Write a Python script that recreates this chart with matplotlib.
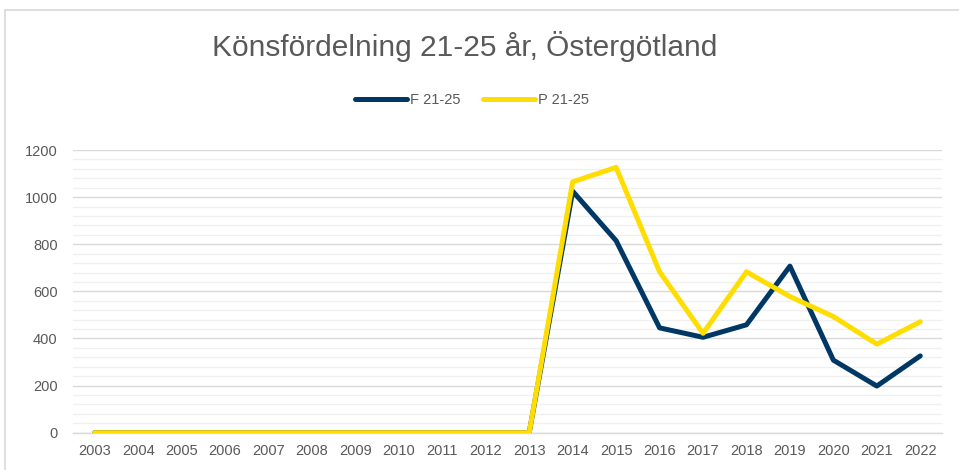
import matplotlib.pyplot as plt
from matplotlib.patches import Rectangle
from matplotlib.ticker import MultipleLocator

years = [str(y) for y in range(2003, 2023)]
f_vals = [0, 0, 0, 0, 0, 0, 0, 0, 0, 0, 0,
          1025, 815, 445, 405, 458, 707, 308, 198, 326]
p_vals = [0, 0, 0, 0, 0, 0, 0, 0, 0, 0, 0,
          1065, 1126, 683, 422, 683, 578, 493, 376, 471]

navy = '#003865'
yellow = '#FFDD00'
grey_text = '#595959'

plt.rcParams['font.family'] = ['Liberation Sans', 'DejaVu Sans']

fig = plt.figure(figsize=(9.59, 4.70), dpi=100)
fig.patches.append(Rectangle((5 / 959, -0.1), 1.1, 1 - 10 / 470 + 0.1,
                             transform=fig.transFigure, fill=False,
                             edgecolor='#D9D9D9', linewidth=1.2))

ax = fig.add_axes([73 / 959, 1 - 432.7 / 470, 869 / 959, (432.7 - 150) / 470])

x = list(range(len(years)))
ax.plot(x, f_vals, color=navy, linewidth=3.6, solid_capstyle='round',
        solid_joinstyle='round', label='F 21-25', zorder=3)
ax.plot(x, p_vals, color=yellow, linewidth=3.6, solid_capstyle='round',
        solid_joinstyle='round', label='P 21-25', zorder=4)

ax.set_xlim(-0.5, len(years) - 0.5)
ax.set_ylim(0, 1200)
ax.set_xticks(x)
ax.set_xticklabels(years)
ax.yaxis.set_major_locator(MultipleLocator(200))
ax.yaxis.set_minor_locator(MultipleLocator(40))
ax.grid(axis='y', which='major', color='#D9D9D9', linewidth=1.0, zorder=0)
ax.grid(axis='y', which='minor', color='#F0F0F0', linewidth=1.0, zorder=0)
ax.set_axisbelow(True)

for s in ['top', 'right', 'left']:
    ax.spines[s].set_visible(False)
ax.spines['bottom'].set_color('#D9D9D9')
ax.spines['bottom'].set_linewidth(1.0)

ax.tick_params(axis='both', which='both', length=0, labelsize=10.5,
               labelcolor=grey_text)
ax.tick_params(axis='x', pad=8)
ax.tick_params(axis='y', pad=11)

fig.text(465 / 959, 1 - 47 / 470, 'Könsfördelning 21-25 år, Östergötland',
         ha='center', va='center', fontsize=21.5, color=grey_text)

fig.legend(loc='center', bbox_to_anchor=(472 / 959, 1 - 100 / 470), ncol=2,
           frameon=False, fontsize=10.5, labelcolor=grey_text,
           handlelength=3.6, handletextpad=0.2, columnspacing=1.5)

fig.savefig('out.png', dpi=100)
